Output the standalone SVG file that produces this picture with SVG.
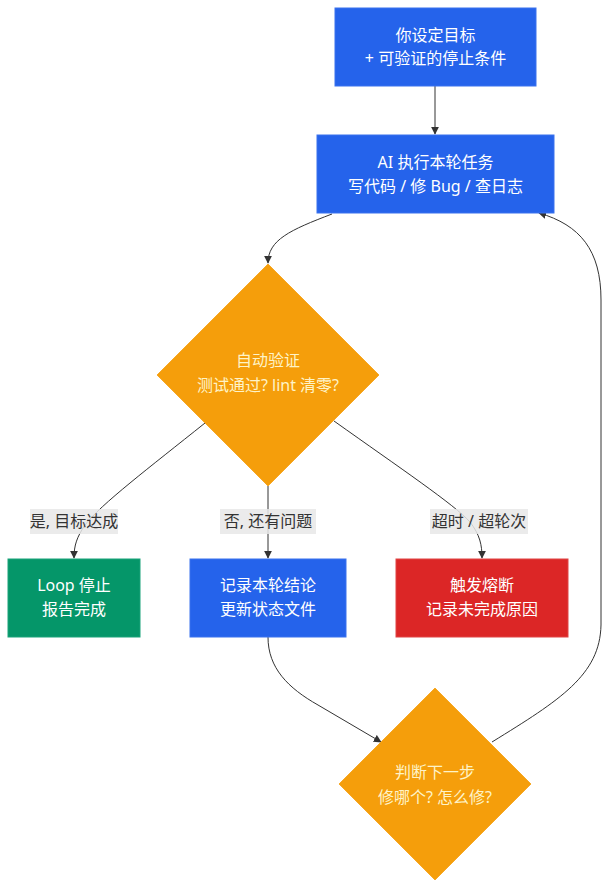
<svg xmlns="http://www.w3.org/2000/svg" width="611" height="888" viewBox="0 0 611 888">
<style>
.n text{font-family:"Noto Sans","Noto Sans CJK SC",sans-serif;font-size:16px;text-anchor:middle;fill:#ffffff}
.d text{fill:#fef3c7}
.blue{fill:#2563eb;stroke:#3b73ee;stroke-width:1}
.amber{fill:#f59e0b;stroke:#f7a928;stroke-width:1}
.green{fill:#059669;stroke:#1aa37a;stroke-width:1}
.red{fill:#dc2626;stroke:#e04444;stroke-width:1}
.e path{fill:none;stroke:#333333;stroke-width:1}
.lbl rect{fill:#e8e8e8;opacity:0.85}
.lbl text{font-family:"Noto Sans","Noto Sans CJK SC",sans-serif;font-size:16px;text-anchor:middle;fill:#333333}
</style>
<defs>
<marker id="arr" viewBox="0 0 10 10" refX="9" refY="5" markerWidth="8" markerHeight="8" orient="auto-start-reverse" markerUnits="userSpaceOnUse">
<path d="M0,0 L10,5 L0,10 z" fill="#333333"/>
</marker>
</defs>
<g id="edges" class="e">
<path d="M435,86 L435,134" marker-end="url(#arr)"/>
<path d="M332,214 C290,230 268,240 268,263" marker-end="url(#arr)"/>
<path d="M205,423 C150,467 100,505 85,525 C77,537 74,545 74,558" marker-end="url(#arr)"/>
<path d="M268,486 L268,558" marker-end="url(#arr)"/>
<path d="M334,421 C400,468 455,505 470,522 C480,535 482,545 482,558" marker-end="url(#arr)"/>
<path d="M268,637 C268,668 288,688 318,705 L381,742" marker-end="url(#arr)"/>
<path d="M492,742 C560,700 600,675 601,625 L601,300 C601,250 580,225 539,213" marker-end="url(#arr)"/>
</g>
<g id="labels" class="lbl">
<g id="lbl-yes"><rect x="30" y="509" width="88" height="25"/><text x="74" y="527">是, 目标达成</text></g>
<g id="lbl-no"><rect x="220" y="509" width="96" height="25"/><text x="268" y="527">否, 还有问题</text></g>
<g id="lbl-timeout"><rect x="430" y="509" width="98" height="25"/><text x="479" y="527">超时 / 超轮次</text></g>
</g>
<g id="goal" class="n"><rect class="blue" x="335" y="8" width="201" height="78"/><text x="435.5" y="41">你设定目标</text><text x="435.5" y="64">+ 可验证的停止条件</text></g>
<g id="exec" class="n"><rect class="blue" x="317" y="135" width="237" height="78"/><text x="435.5" y="168">AI 执行本轮任务</text><text x="435.5" y="192">写代码 / 修 Bug / 查日志</text></g>
<g id="verify" class="n d"><polygon class="amber" points="268,264 379,375 268,486 157,375"/><text x="268" y="366">自动验证</text><text x="268" y="391">测试通过? lint 清零?</text></g>
<g id="stop" class="n"><rect class="green" x="8" y="559" width="132" height="78"/><text x="74" y="591">Loop 停止</text><text x="74" y="615">报告完成</text></g>
<g id="record" class="n"><rect class="blue" x="190" y="559" width="156" height="78"/><text x="268" y="591">记录本轮结论</text><text x="268" y="615">更新状态文件</text></g>
<g id="breaker" class="n"><rect class="red" x="396" y="559" width="172" height="78"/><text x="482" y="591">触发熔断</text><text x="482" y="615">记录未完成原因</text></g>
<g id="next" class="n d"><polygon class="amber" points="435,688 531,784 435,880 339,784"/><text x="435" y="778">判断下一步</text><text x="435" y="803">修哪个? 怎么修?</text></g>
</svg>
